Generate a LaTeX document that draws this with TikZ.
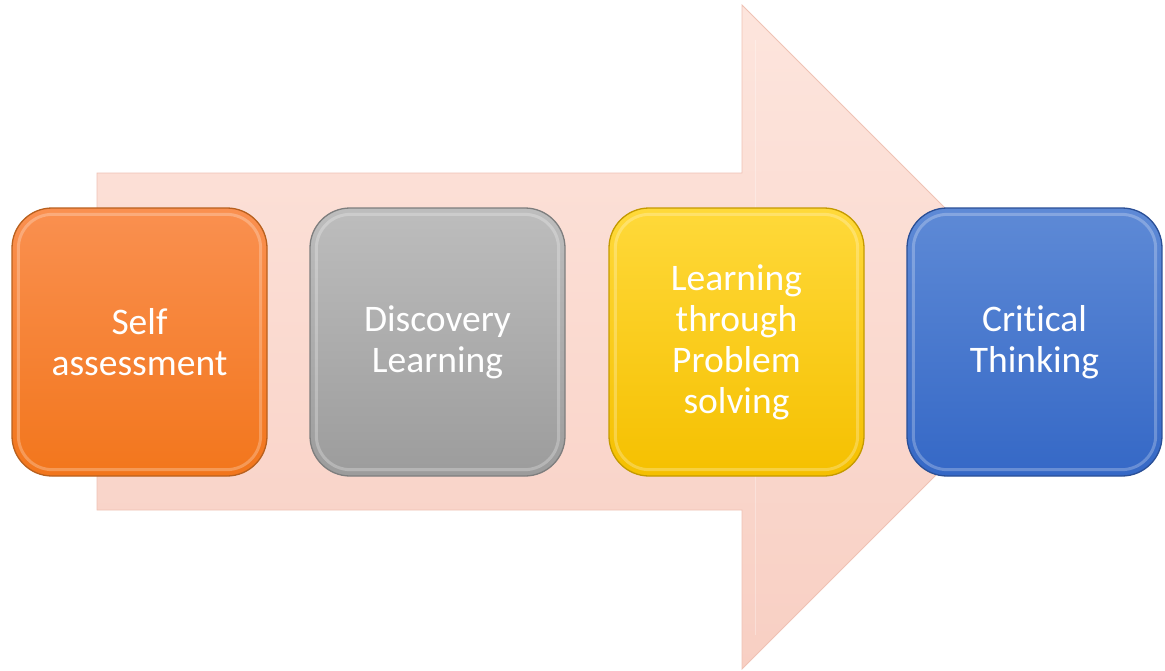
\documentclass[tikz,border=0pt]{standalone}
\usepackage{fontspec}
\setmainfont{Carlito}[Ligatures=NoCommon]
\usetikzlibrary{shapes,arrows,calc,backgrounds,positioning}

\definecolor{pinktop}{HTML}{FDE5DD}
\definecolor{pinkbot}{HTML}{F8CFC3}
\definecolor{pinkedge}{HTML}{EFC2B4}
\definecolor{orangetop}{HTML}{FA9050}
\definecolor{orangebot}{HTML}{F2761C}
\definecolor{orangeedge}{HTML}{B8601E}
\definecolor{graytop}{HTML}{BDBDBD}
\definecolor{graybot}{HTML}{9C9C9C}
\definecolor{grayedge}{HTML}{7E7E7E}
\definecolor{yellowtop}{HTML}{FFD93A}
\definecolor{yellowbot}{HTML}{F5C000}
\definecolor{yellowedge}{HTML}{C49A00}
\definecolor{bluetop}{HTML}{5E8AD6}
\definecolor{bluebot}{HTML}{3568C6}
\definecolor{blueedge}{HTML}{2A4F96}

\tikzset{
	stagebox/.style={rounded corners=40pt,minimum width=255pt,minimum height=268pt,
		align=center,text=white,font=\fontsize{37.5}{41}\selectfont,line width=1.3pt},
	bevel/.style={rounded corners=34pt,line width=3pt,white,opacity=.25}
}

\begin{document}
\begin{tikzpicture}[x=1pt,y=-1pt]
	\useasboundingbox (0,0) rectangle (1165,670);

	% big arrow behind
	\draw[pinkedge,top color=pinktop,bottom color=pinkbot,line width=.8pt]
		(97,173)--(742,173)--(742,5)--(1074,337)--(742,669)--(742,510)--(97,510)--cycle;
	\draw[white,opacity=.3,line width=1pt] (755,40)--(755,635);

	\node[stagebox,draw=orangeedge,top color=orangetop,bottom color=orangebot] (self) at (139.5,342) {Self\\assessment};
	\node[stagebox,draw=grayedge,top color=graytop,bottom color=graybot] (disc) at (437.5,342) {Discovery\\Learning};
	\node[stagebox,draw=yellowedge,top color=yellowtop,bottom color=yellowbot] (prob) at (736.5,342) {Learning\\through\\Problem\\solving};
	\node[stagebox,draw=blueedge,top color=bluetop,bottom color=bluebot] (crit) at (1034.5,342) {Critical\\Thinking};

	\foreach \n in {self,disc,prob,crit}
		\draw[bevel] ($(\n.south west)+(7,-7)$) rectangle ($(\n.north east)+(-7,7)$);

\end{tikzpicture}
\end{document}
